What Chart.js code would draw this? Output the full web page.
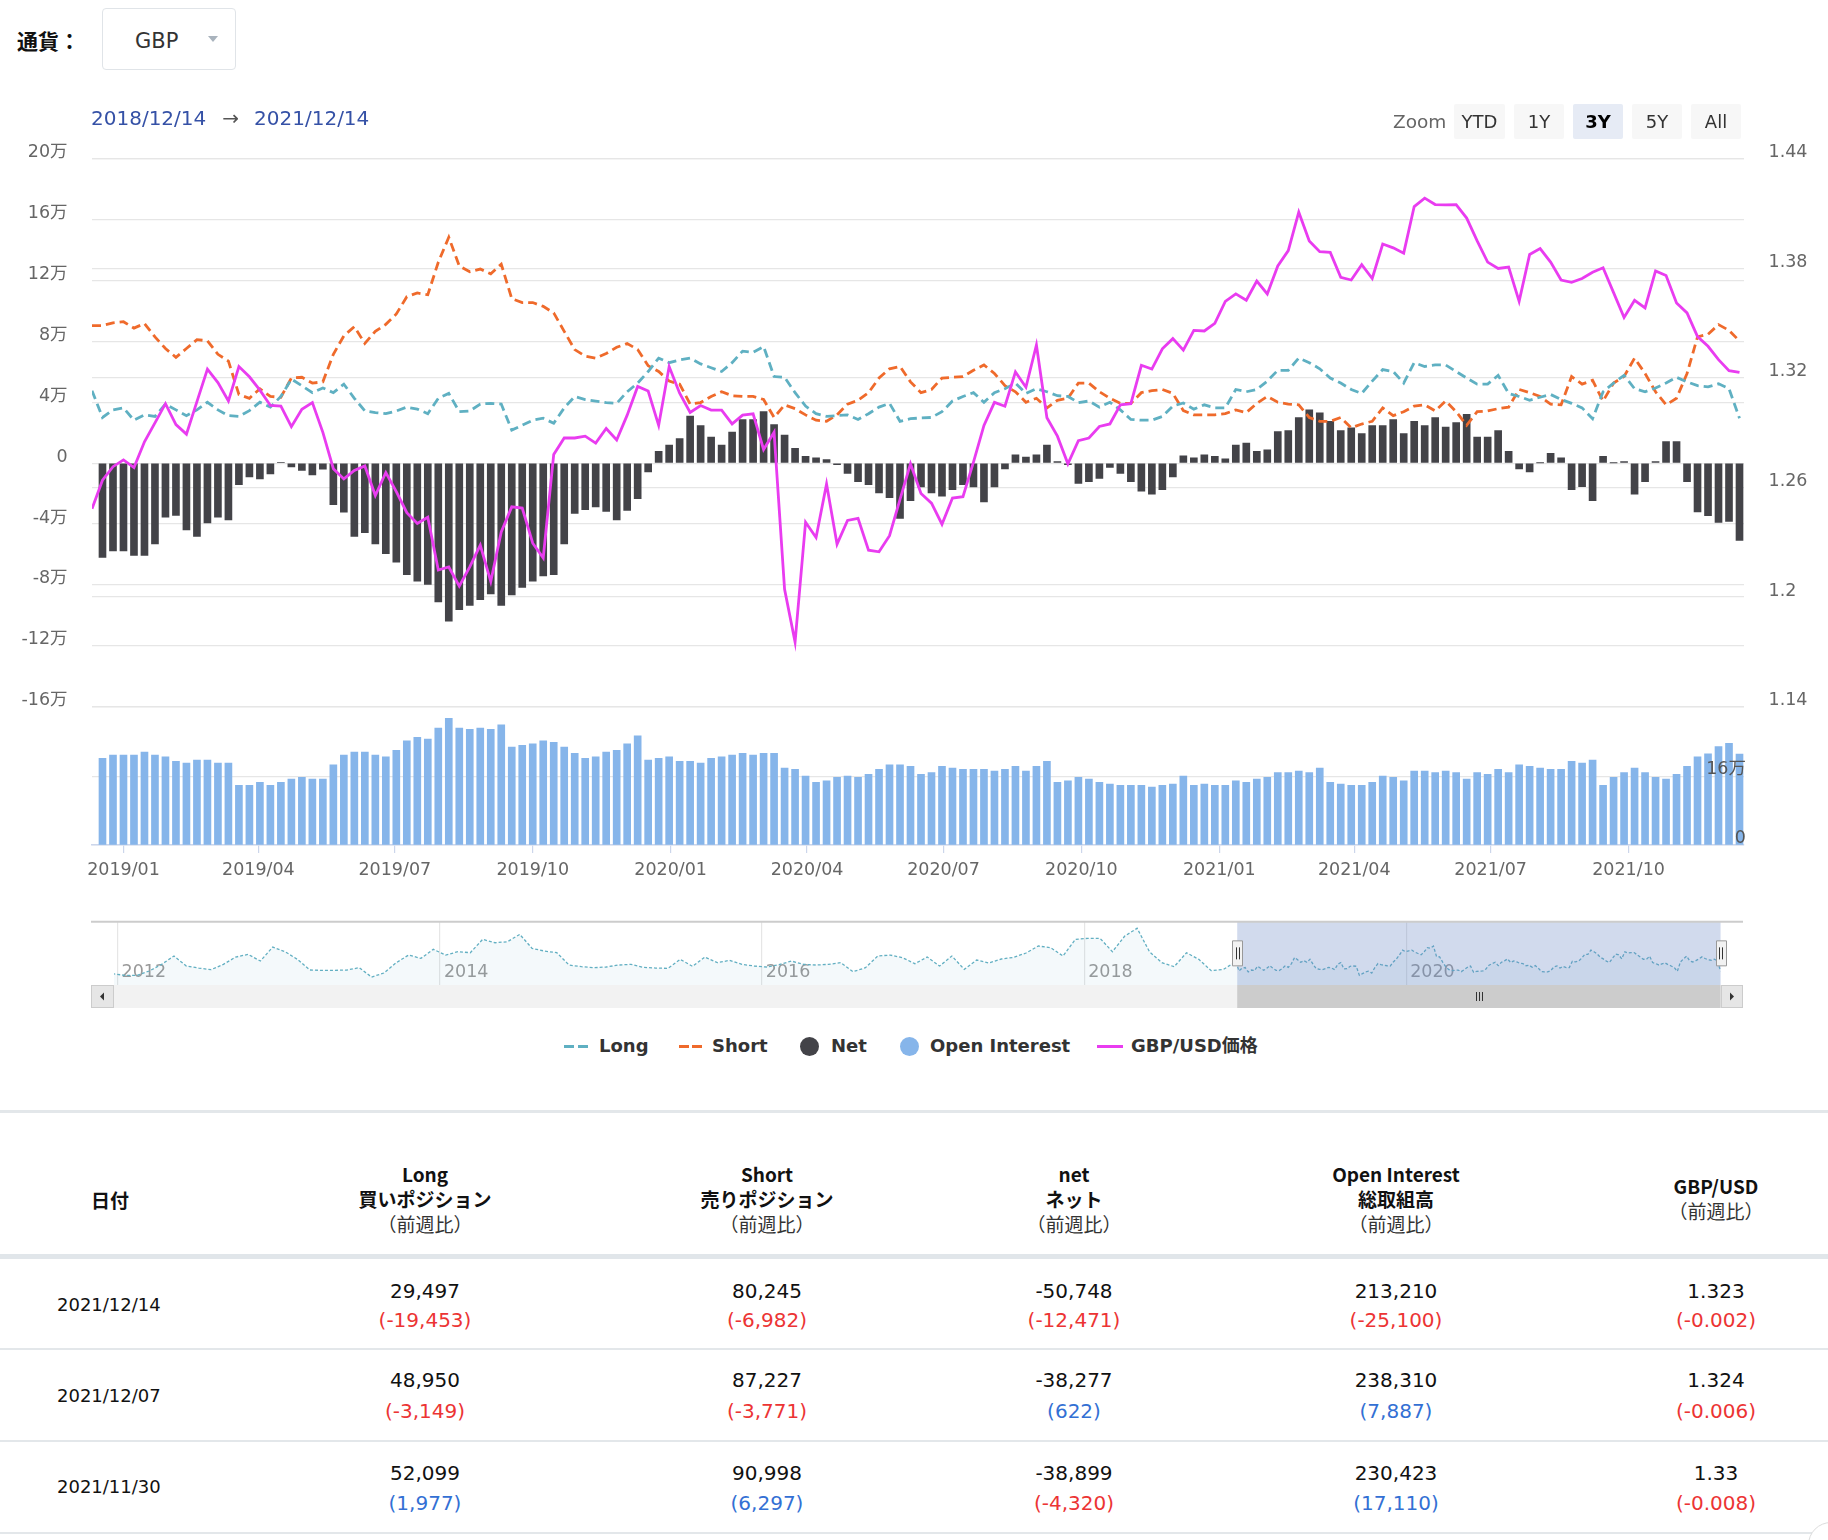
<!DOCTYPE html>
<html lang="ja">
<head>
<meta charset="utf-8">
<title>GBP ポジション</title>
<script src="https://cdn.jsdelivr.net/npm/chart.js@4.4.1/dist/chart.umd.min.js"></script>
<style>
html,body{margin:0;padding:0;background:#fff;}
body{width:1828px;height:1540px;position:relative;overflow:hidden;font-family:"DejaVu Sans","Noto Sans CJK JP",sans-serif;color:#222;}
.abs{position:absolute;white-space:nowrap;}
canvas{position:absolute;left:0;}
.btn{position:absolute;top:104px;height:35px;line-height:35px;text-align:center;background:#f7f7f7;color:#333;font-size:18px;border-radius:2px;z-index:3;}
.btn.sel{background:#e6ebf5;color:#000;font-weight:bold;}
.leg{position:absolute;top:1034px;height:24px;line-height:24px;font-size:18px;font-weight:bold;color:#333;font-family:"DejaVu Sans","Noto Sans CJK JP",sans-serif;}
.hd{position:absolute;width:320px;text-align:center;font-family:"Noto Sans CJK JP",sans-serif;font-size:19px;line-height:25px;color:#111;}
.hd b{font-weight:bold;}
.cell{position:absolute;width:260px;text-align:center;font-size:20px;line-height:26px;}
.sep{position:absolute;left:0;width:1828px;background:#e3e7ea;}
</style>
</head>
<body>

<!-- header -->
<div class="abs" style="left:17px;top:26px;font-family:'Noto Sans CJK JP',sans-serif;font-weight:bold;font-size:21px;line-height:28px;color:#111;">通貨：</div>
<div class="abs" style="left:102px;top:8px;width:134px;height:62px;border:1.5px solid #e0e4e8;border-radius:4px;box-sizing:border-box;"></div>
<div class="abs" style="left:135px;top:27px;font-size:21px;line-height:28px;color:#333;">GBP</div>
<div class="abs" style="left:208px;top:36px;width:0;height:0;border-left:5px solid transparent;border-right:5px solid transparent;border-top:6px solid #a9b3bd;"></div>

<div class="abs" style="left:91px;top:105px;font-size:20px;line-height:26px;color:#3551a6;z-index:3;">2018/12/14<span style="color:#555;display:inline-block;margin:0 15px 0 16px;">→</span>2021/12/14</div>

<div class="abs" style="left:1393px;top:108px;font-size:18.5px;line-height:28px;color:#666;z-index:3;">Zoom</div>
<div class="btn" style="left:1454px;width:51px;">YTD</div>
<div class="btn" style="left:1514px;width:50px;">1Y</div>
<div class="btn sel" style="left:1573px;width:50px;">3Y</div>
<div class="btn" style="left:1632px;width:50px;">5Y</div>
<div class="btn" style="left:1691px;width:50px;">All</div>

<canvas id="mainChart" width="1828" height="590" style="top:130px"></canvas>
<canvas id="volChart" width="1828" height="200" style="top:700px"></canvas>
<canvas id="navChart" width="1828" height="100" style="top:915px"></canvas>

<!-- legend -->
<div class="abs" style="left:564px;top:1044.5px;width:9.5px;height:3px;background:#5fb0c2"></div>
<div class="abs" style="left:578px;top:1044.5px;width:9.5px;height:3px;background:#5fb0c2"></div>
<div class="leg" style="left:599px;">Long</div>
<div class="abs" style="left:679px;top:1044.5px;width:9.5px;height:3px;background:#ef6a2b"></div>
<div class="abs" style="left:692px;top:1044.5px;width:9.5px;height:3px;background:#ef6a2b"></div>
<div class="leg" style="left:712px;">Short</div>
<div class="abs" style="left:800px;top:1036.5px;width:19px;height:19px;border-radius:50%;background:#434348"></div>
<div class="leg" style="left:831px;">Net</div>
<div class="abs" style="left:899.5px;top:1036.5px;width:19px;height:19px;border-radius:50%;background:#86b5ea"></div>
<div class="leg" style="left:930px;">Open Interest</div>
<div class="abs" style="left:1097px;top:1044.5px;width:26px;height:3px;background:#e93cf0"></div>
<div class="leg" style="left:1131px;">GBP/USD価格</div>

<!-- table -->
<div class="sep" style="top:1110px;height:2.5px;"></div>
<div class="abs" style="left:91px;top:1186.5px;font-family:'Noto Sans CJK JP',sans-serif;font-weight:bold;font-size:19px;line-height:26px;color:#111;">日付</div>
<div id="tableHead"></div>
<div class="sep" style="top:1254px;height:5px;background:#e1e6ea"></div>
<div id="tableBody"></div>
<div class="abs" style="left:1808px;top:1522px;width:44px;height:44px;border-radius:50%;border:1px solid #dcdcdc;background:#fff;"></div>

<script>
// ---------------- data ----------------
const firstReportDate = '2018-12-11';   // weekly COT report dates (Tuesdays)
const reportCount = 158;                // 2018-12-11 ... 2021-12-14

const longPos = [
  47600,
  30000,35000,36300,28200,31700,30700,38800,35000,31200,35000,
  40000,35000,31200,30700,34500,40000,36800,43800,55200,50900,
  46300,49400,46300,51900,42600,34300,33200,32500,34300,36800,
  35500,32500,42600,45800,33800,34300,38800,39300,38800,21700,
  24900,28200,29500,26200,36300,43800,41800,40800,39800,39300,
  46900,52600,60200,69000,66000,67800,69000,65200,62700,60200,
  66000,73600,72800,76600,56900,56400,46300,37500,32500,30700,
  31200,31700,28700,32500,36800,39300,27500,29200,29700,30000,
  33800,40800,43800,46300,40000,46300,48900,52600,45800,48900,
  46900,44300,43800,39800,40800,36800,40000,35000,28700,28200,
  28200,30700,37500,39500,35500,38300,36300,36300,48400,46900,
  48400,53900,61000,61000,69000,66000,62000,55900,52600,48400,
  45800,53900,61500,60200,52600,66000,63500,64500,64500,60200,
  55900,51900,51900,57700,45800,43800,41300,43300,45100,41800,
  39300,36300,29200,46900,52600,57700,48900,46900,49400,52600,
  56400,53400,50900,50122,52099,48950,29497
];

const shortPos = [
  90400,
  90400,92200,92900,88700,91700,82900,75300,69500,75300,81100,
  80400,71500,67000,45100,42600,48900,43800,43300,55900,56400,
  52600,53400,71500,83600,89700,78600,86600,91200,98000,109300,
  111800,110600,132000,148400,129500,125700,127500,124400,130700,108100,
  105500,105500,103000,98700,86600,74600,70300,69000,72000,76100,
  78600,74600,64000,60200,53900,51900,38800,39800,43800,46900,
  44300,43800,43800,41800,30000,38300,35800,31700,28200,27500,
  31700,38800,41300,46300,55900,62000,63500,53400,46300,48400,
  55900,56400,56900,61000,64500,58900,50900,46900,40000,42600,
  36300,41300,42600,52600,52600,46900,42600,39300,39300,46300,
  47600,48400,45800,34500,31700,31700,31700,32500,35000,33200,
  39300,43800,40000,38800,38300,30000,27500,27500,30000,23200,
  25700,27500,36300,31200,33800,37500,38300,34300,40800,33800,
  24900,33800,34300,35800,36800,48400,46300,43800,38800,38300,
  56900,51900,54400,40800,52600,56900,69000,58900,46900,38300,
  42600,58900,82900,84701,90998,87227,80245
];

const netPos = [
  null,
  -62000,-57700,-57700,-60700,-60700,-53100,-35500,-34300,-43800,-48100,
  -39300,-35500,-37300,-14100,-9100,-10300,-7100,500,-2500,-4800,
  -7800,-4000,-27200,-32200,-48100,-45600,-53100,-59400,-65000,-73300,
  -77600,-79600,-91200,-103800,-96200,-93500,-89700,-85900,-93500,-86600,
  -81600,-77600,-74100,-73300,-53100,-33000,-30500,-28700,-31700,-37300,
  -31000,-23400,-5800,7800,11800,16100,31000,24700,17100,11800,
  20400,28700,28700,33800,25400,18400,9800,4500,3500,2300,
  -1000,-6800,-12100,-14100,-19600,-22700,-36300,-24700,-15600,-19600,
  -21700,-17400,-14100,-15600,-25400,-15600,-3800,5500,4000,5500,
  11800,1000,-1000,-13300,-12100,-10100,-2800,-6800,-12100,-18400,
  -20400,-17400,-9100,4800,3500,5500,4500,2800,11800,13100,
  7800,8800,20700,21400,30000,35000,33000,27500,21400,23200,
  19400,24700,24700,28700,19400,27500,24700,30000,23700,26700,
  32000,17100,17100,21400,7800,-3800,-5800,200,6500,3500,
  -17400,-15400,-24700,4500,200,1000,-20400,-12100,1000,14100,
  14100,-12100,-32000,-34579,-38899,-38277,-50748
];

const openInterest = [
  null,
  202900,210700,210700,210700,217800,210700,206800,195900,192000,199000,
  199000,192000,192000,139700,139700,146700,139700,146700,154500,158400,
  154500,154500,188100,210700,217800,217800,210700,206800,221700,244300,
  252100,248200,274000,296600,274000,270800,274000,270800,281800,229500,
  233400,237300,244300,240400,229500,214600,202900,206800,217800,221700,
  237300,256000,199000,202900,206800,195900,195900,192000,202900,206800,
  210700,214600,210700,214600,214600,180300,177200,161600,146700,150600,
  158400,161600,158400,165500,177200,188100,188100,184200,165500,169400,
  184200,180300,177200,177200,177200,173300,177200,184200,173300,184200,
  195900,146700,150600,158400,154500,146700,142800,139700,139700,139700,
  135800,139700,142800,161600,139700,142800,139700,139700,150600,146700,
  154500,158400,169400,169400,173300,169400,180300,146700,142800,139700,
  139700,146700,161600,158400,150600,173300,173300,169400,173300,169400,
  154500,169400,165500,177200,169400,188100,184200,180300,177200,177200,
  195900,192000,199000,139700,158400,169400,180300,169400,158400,154500,
  165500,184200,206800,213313,230423,238310,213210
];

const gbpUsd = [
  1.2483,
  1.2640,1.2714,1.2751,1.2709,1.2850,1.2954,1.3059,1.2944,1.2892,1.3070,
  1.3248,1.3174,1.3074,1.3262,1.3206,1.3133,1.3049,1.3045,1.2933,1.3028,
  1.3065,1.2902,1.2703,1.2647,1.2693,1.2718,1.2556,1.2682,1.2577,1.2462,
  1.2403,1.2437,1.2148,1.2165,1.2060,1.2165,1.2284,1.2085,1.2357,1.2494,
  1.2487,1.2295,1.2215,1.2781,1.2871,1.2871,1.2881,1.2843,1.2923,1.2860,
  1.2996,1.3153,1.3128,1.2940,1.3262,1.3116,1.3011,1.3049,1.3024,1.3024,
  1.2948,1.2996,1.3003,1.2808,1.2902,1.2043,1.1754,1.2410,1.2326,1.2619,
  1.2290,1.2420,1.2431,1.2257,1.2248,1.2336,1.2535,1.2730,1.2567,1.2514,
  1.2399,1.2542,1.2550,1.2739,1.2940,1.3066,1.3045,1.3233,1.3149,1.3380,
  1.2982,1.2881,1.2730,1.2856,1.2871,1.2934,1.2948,1.3053,1.3059,1.3269,
  1.3248,1.3359,1.3415,1.3352,1.3460,1.3457,1.3499,1.3619,1.3660,1.3625,
  1.3730,1.3660,1.3813,1.3897,1.4107,1.3950,1.3891,1.3887,1.3751,1.3736,
  1.3820,1.3744,1.3933,1.3912,1.3883,1.4138,1.4184,1.4149,1.4147,1.4149,
  1.4075,1.3950,1.3834,1.3799,1.3807,1.3619,1.3876,1.3908,1.3834,1.3736,
  1.3723,1.3744,1.3778,1.3803,1.3667,1.3531,1.3625,1.3583,1.3786,1.3761,
  1.3610,1.3556,1.3426,1.3373,1.330,1.324,1.323
];

// navigator: Long positions before the chart window, every 4 weeks from 2011-12-20
const navHistoryStart = '2011-12-20';
const navHistoryLong = [
  24900,21800,21800,29900,42400,58000,39200,35500,32400,42400,
  56100,61100,48600,74800,66100,51700,31800,31100,31100,31800,
  36100,18600,26100,45500,59800,53600,70500,59800,66100,64200,
  89200,82900,84800,98500,72300,67300,64200,41100,38000,36100,
  37400,41100,42400,36700,35500,34900,51700,38600,56100,45500,
  49900,42400,39200,37400,41700,48600,42400,41100,42400,45500,
  28600,36100,58000,59800,54900,43600,56100,39200,58000,33000,
  50500,44900,52400,55500,63600,76700,73600,58000,89200,91100,
  91100,66100,95400,110000,66100,45500,38000,64200,51700,30500,
  33000
];

const netTickValues = [-160000,-120000,-80000,-40000,0,40000,80000,120000,160000,200000];
const priceTickValues = [1.14,1.2,1.26,1.32,1.38,1.44];
const volumeTickValues = [0,160000];
const monthTickLabels = ['2019/01','2019/04','2019/07','2019/10','2020/01','2020/04','2020/07','2020/10','2021/01','2021/04','2021/07','2021/10'];
const yearTickLabels = ['2012','2014','2016','2018','2020'];
const rangeStart = '2018-12-14';
const rangeEnd = '2021-12-14';

const tableDates     = ['2021/12/14','2021/12/07','2021/11/30'];
const tableLong      = [29497,48950,52099];
const tableLongChg   = [-19453,-3149,1977];
const tableShort     = [80245,87227,90998];
const tableShortChg  = [-6982,-3771,6297];
const tableNet       = [-50748,-38277,-38899];
const tableNetChg    = [-12471,622,-4320];
const tableOI        = [213210,238310,230423];
const tableOIChg     = [-25100,7887,17110];
const tablePrice     = [1.323,1.324,1.33];
const tablePriceChg  = [-0.002,-0.006,-0.008];

// ---------------- helpers ----------------
const FONT = '"DejaVu Sans", "Noto Sans CJK JP", sans-serif';
Chart.defaults.font.family = FONT;
const DAY = 86400000;
function dayNum(s){ const p = s.split(/[-\/]/).map(Number); return Date.UTC(p[0], p[1]-1, p[2]||1)/DAY; }
const reportDays = [];
for (let k=0;k<reportCount;k++) reportDays.push(dayNum(firstReportDate)+7*k);
function pts(arr){ return arr.map((v,k)=>({x:reportDays[k], y:v})); }
const xMin = dayNum('2018-12-11');
const xMax = dayNum('2021-12-17');
function man(v){ return v===0 ? '0' : (v/10000)+'万'; }
const monthTickValues = monthTickLabels.map(dayNum);
const yearTickValues = yearTickLabels.map(y=>dayNum(y+'-01-01'));
const volMax = 324000;
function noPad(s){ s.paddingTop = 0; s.paddingBottom = 0; s.paddingLeft = 0; s.paddingRight = 0; }

const C_LONG='#5fb0c2', C_SHORT='#ef6a2b', C_NET='#434348', C_OI='#86b5ea', C_PX='#e93cf0';
const tickFont = {size:17.5, family:FONT};

// ---------------- main pane ----------------
new Chart(document.getElementById('mainChart'), {
  type:'bar',
  data:{datasets:[
    {type:'line', label:'GBP/USD価格', data:pts(gbpUsd), yAxisID:'yR', borderColor:C_PX, borderWidth:2.8, pointRadius:0, tension:0, fill:false, order:0},
    {type:'line', label:'Long', data:pts(longPos), yAxisID:'yL', borderColor:C_LONG, borderWidth:2.8, borderDash:[9,5], pointRadius:0, tension:0, fill:false, order:1},
    {type:'line', label:'Short', data:pts(shortPos), yAxisID:'yL', borderColor:C_SHORT, borderWidth:2.8, borderDash:[9,5], pointRadius:0, tension:0, fill:false, order:2},
    {type:'bar', label:'Net', data:pts(netPos), yAxisID:'yL', backgroundColor:C_NET, barThickness:7, order:3}
  ]},
  options:{
    responsive:false, animation:false, devicePixelRatio:1,
    layout:{padding:{top:28.7, bottom:13.3, left:0, right:0}},
    plugins:{legend:{display:false}, tooltip:{enabled:false}},
    scales:{
      x:{type:'linear', display:false, min:xMin, max:xMax, offset:false, grid:{offset:false}},
      yL:{position:'left', min:-160000, max:200000,
          afterFit(s){ s.width = 92; noPad(s); },
          afterBuildTicks(s){ s.ticks = netTickValues.map(v=>({value:v})); },
          grid:{color:'#e6e6e6', lineWidth:1.2, drawTicks:false},
          border:{display:false},
          ticks:{padding:24.4, labelOffset:-6, color:'#666', font:tickFont, callback:(v)=>man(v)}},
      yR:{position:'right', min:1.14, max:1.44,
          afterFit(s){ s.width = 84; noPad(s); },
          afterBuildTicks(s){ s.ticks = priceTickValues.map(v=>({value:v})); },
          grid:{color:'#e6e6e6', lineWidth:1.2, drawTicks:false},
          border:{display:false},
          ticks:{padding:24.5, labelOffset:-6, color:'#666', font:tickFont, callback:(v)=>String(parseFloat(v.toFixed(2)))}}
    }
  }
});

// ---------------- open interest pane ----------------
new Chart(document.getElementById('volChart'), {
  type:'bar',
  data:{datasets:[
    {label:'Open Interest', data:pts(openInterest), yAxisID:'yV', backgroundColor:C_OI, barThickness:7}
  ]},
  options:{
    responsive:false, animation:false, devicePixelRatio:1,
    layout:{padding:{top:6.7, bottom:15, left:92, right:0}},
    plugins:{legend:{display:false}, tooltip:{enabled:false}},
    scales:{
      x:{type:'linear', position:'bottom', min:xMin, max:xMax, offset:false,
         afterFit(s){ s.height = 40; noPad(s); },
         afterBuildTicks(s){ s.ticks = monthTickValues.map(v=>({value:v})); },
         grid:{display:true, offset:false, drawOnChartArea:false, drawTicks:true, tickLength:8, tickColor:'#ccd6eb', lineWidth:1.2},
         border:{display:true, color:'#ccd6eb', width:1.5},
         ticks:{autoSkip:false, maxRotation:0, minRotation:0, padding:7, color:'#666', font:{size:17.5, family:FONT},
                callback:(v,i)=>monthTickLabels[i]}},
      yV:{position:'right', weight:1, min:0, max:volMax,
          afterFit(s){ s.width = 84; noPad(s); },
          afterBuildTicks(s){ s.ticks = volumeTickValues.concat([volMax]).map(v=>({value:v})); },
          grid:{color:'#e6e6e6', lineWidth:1.2, drawTicks:false},
          border:{display:false},
          ticks:{display:false}},
      yVL:{position:'right', weight:0, min:0, max:volMax,
          afterFit(s){ s.width = 0; noPad(s); },
          afterBuildTicks(s){ s.ticks = volumeTickValues.map(v=>({value:v})); },
          grid:{display:false, drawTicks:false},
          border:{display:false},
          ticks:{z:1, mirror:true, padding:2, labelOffset:-7, color:'#555', font:tickFont, callback:(v)=>man(v)}}
    }
  }
});

// ---------------- navigator ----------------
const navData = navHistoryLong.map((v,k)=>({x:dayNum(navHistoryStart)+28*k, y:v})).concat(pts(longPos));
const navDecor = {
  id:'navDecor',
  afterDatasetsDraw(chart){
    const {ctx, chartArea:a, scales:{x}} = chart;
    const x0 = x.getPixelForValue(dayNum(rangeStart));
    const x1 = x.getPixelForValue(dayNum(rangeEnd));
    const L = a.left-23, R = a.right+22;
    ctx.save();
    ctx.fillStyle='rgba(102,133,194,0.3)';
    ctx.fillRect(x0, a.top, x1-x0, a.bottom-a.top);
    ctx.strokeStyle='#cccccc'; ctx.lineWidth=2;
    ctx.beginPath(); ctx.moveTo(L, a.top); ctx.lineTo(R, a.top); ctx.stroke();
    // scrollbar
    const sT=a.bottom, sH=23;
    ctx.fillStyle='#f2f2f2'; ctx.fillRect(L, sT, R-L, sH);
    ctx.fillStyle='#cccccc'; ctx.fillRect(x0, sT, x1-x0, sH);
    ctx.strokeStyle='#333'; ctx.lineWidth=1;
    const cx=(x0+x1)/2;
    for (const dx of [-3,0,3]) { ctx.beginPath(); ctx.moveTo(Math.round(cx+dx)+0.5, sT+7); ctx.lineTo(Math.round(cx+dx)+0.5, sT+16); ctx.stroke(); }
    // buttons
    ctx.fillStyle='#e6e6e6'; ctx.strokeStyle='#cccccc';
    ctx.fillRect(L, sT, 23, sH); ctx.strokeRect(L+0.5, sT+0.5, 22, sH-1);
    ctx.fillRect(R-22, sT, 22, sH); ctx.strokeRect(R-21.5, sT+0.5, 21, sH-1);
    ctx.fillStyle='#333';
    ctx.beginPath(); ctx.moveTo(L+13, sT+7.5); ctx.lineTo(L+9, sT+11.5); ctx.lineTo(L+13, sT+15.5); ctx.closePath(); ctx.fill();
    ctx.beginPath(); ctx.moveTo(R-13, sT+7.5); ctx.lineTo(R-9, sT+11.5); ctx.lineTo(R-13, sT+15.5); ctx.closePath(); ctx.fill();
    // handles
    for (const hx of [x0, x1]) {
      const hy = (a.top+a.bottom)/2;
      ctx.fillStyle='#f2f2f2'; ctx.strokeStyle='#999999'; ctx.lineWidth=1;
      ctx.beginPath(); ctx.rect(Math.round(hx-5)+0.5, hy-12.5, 10, 25); ctx.fill(); ctx.stroke();
      ctx.strokeStyle='#333';
      for (const dx of [-1.5,1.5]) { ctx.beginPath(); ctx.moveTo(Math.round(hx+dx)+0.5, hy-6); ctx.lineTo(Math.round(hx+dx)+0.5, hy+6); ctx.stroke(); }
    }
    ctx.restore();
  }
};
new Chart(document.getElementById('navChart'), {
  type:'line',
  data:{datasets:[{label:'Long', data:navData, borderColor:'#62afc2', borderWidth:1.3, borderDash:[3,2], pointRadius:0, tension:0,
                   fill:'start', backgroundColor:'rgba(98,175,194,0.07)'}]},
  options:{
    responsive:false, animation:false, devicePixelRatio:1,
    layout:{padding:{top:6.7, bottom:30, left:114, right:107}},
    plugins:{legend:{display:false}, tooltip:{enabled:false}},
    scales:{
      x:{type:'linear', min:dayNum('2011-12-24'), max:dayNum('2021-12-15'),
         afterFit(s){ s.height = 0; noPad(s); },
         afterBuildTicks(s){ s.ticks = yearTickValues.map(v=>({value:v})); },
         grid:{color:'#e6e6e6', lineWidth:1.2, drawTicks:false},
         border:{display:false},
         ticks:{mirror:true, align:'start', padding:2, labelOffset:4, color:'#999', font:{size:17.5, family:FONT}, maxRotation:0, autoSkip:false,
                callback:(v,i)=>yearTickLabels[i]}},
      y:{display:false, min:3700, max:122300}
    }
  },
  plugins:[navDecor]
});

// ---------------- table ----------------
const colCenters = [425, 767, 1074, 1396, 1716];
const headLines = [
  ['Long','買いポジション','(前週比)'],
  ['Short','売りポジション','(前週比)'],
  ['net','ネット','(前週比)'],
  ['Open Interest','総取組高','(前週比)'],
  ['GBP/USD','(前週比)']
];
let hh='';
headLines.forEach((lines,c)=>{
  const top = lines.length===3 ? 1160.5 : 1172.5;
  const html = lines.map((t,j)=> (j<lines.length-1) ? '<b>'+t+'</b>' : '<span style="color:#333">'+t.replace('(','（').replace(')','）')+'</span>').join('<br>');
  hh += '<div class="hd" style="left:'+(colCenters[c]-160)+'px;top:'+top+'px">'+html+'</div>';
});
document.getElementById('tableHead').innerHTML = hh;

function fmtInt(v){ return v.toLocaleString('en-US'); }
function chg(v, isPrice){
  const t = isPrice ? String(v) : fmtInt(v);
  const col = v < 0 ? '#ec3434' : '#3370d4';
  return '<span style="color:'+col+'">('+t+')</span>';
}
const rowValY = [1278, 1367, 1460];
const rowChgY = [1307, 1398, 1490];
const rowDateY = [1292, 1383, 1474];
const sepY = [1348, 1440, 1532];
let hb='';
for (let r=0;r<3;r++){
  hb += '<div class="abs" style="left:57px;top:'+rowDateY[r]+'px;font-size:18px;line-height:26px;color:#111">'+tableDates[r]+'</div>';
  const vals = [fmtInt(tableLong[r]), fmtInt(tableShort[r]), fmtInt(tableNet[r]), fmtInt(tableOI[r]), String(tablePrice[r])];
  const chgs = [chg(tableLongChg[r]), chg(tableShortChg[r]), chg(tableNetChg[r]), chg(tableOIChg[r]), chg(tablePriceChg[r], true)];
  for (let c=0;c<5;c++){
    hb += '<div class="cell" style="left:'+(colCenters[c]-130)+'px;top:'+rowValY[r]+'px;color:#111">'+vals[c]+'</div>';
    hb += '<div class="cell" style="left:'+(colCenters[c]-130)+'px;top:'+rowChgY[r]+'px">'+chgs[c]+'</div>';
  }
  hb += '<div class="sep" style="top:'+sepY[r]+'px;height:2px"></div>';
}
document.getElementById('tableBody').innerHTML = hb;
</script>
</body>
</html>
